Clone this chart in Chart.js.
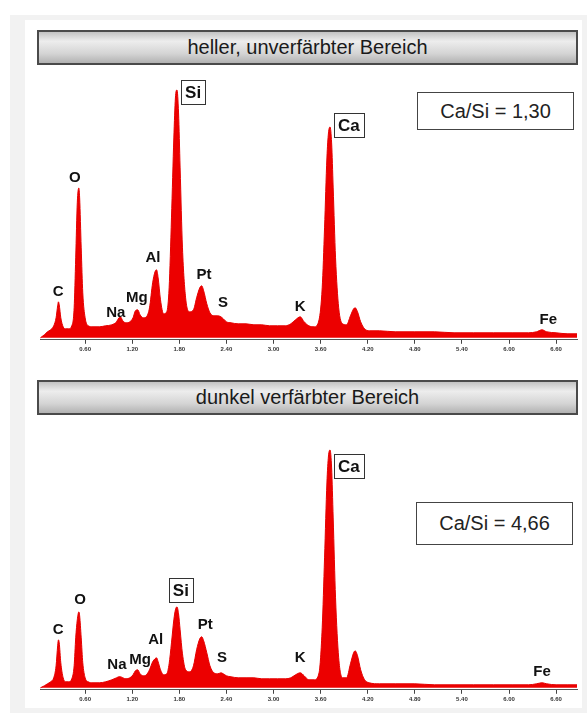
<!DOCTYPE html>
<html>
<head>
<meta charset="utf-8">
<script src="https://cdn.jsdelivr.net/npm/chart.js@4/dist/chart.umd.min.js"></script>
<style>
  body { margin: 0; background: #fff; width: 587px; height: 713px; position: relative; overflow: hidden; font-family: Arial, "Liberation Sans", sans-serif; }
  #frame { position: absolute; left: 10px; top: 15px; width: 577px; height: 698px; background: #f2f2f2; }
  #panel { position: absolute; left: 25px; top: 20px; width: 557px; height: 688px; background: #fff; }
  .head { position: absolute; left: 37px; width: 537px; height: 31px; border: 2px solid #4a4a4a;
          background: linear-gradient(to bottom, #c2c2c2 0%, #ededed 30%, #d4d4d4 70%, #b2b2b2 100%);
          text-align: center; font-size: 20px; line-height: 31px; color: #1a1a1a; }
  .ratio { position: absolute; width: 155px; border: 1px solid #444; background: #fff;
           text-align: center; font-size: 20px; color: #222; }
  .wrap { position: absolute; left: 0; width: 587px; }
</style>
</head>
<body>
<div id="frame"></div>
<div id="panel"></div>
<div class="head" style="top:30px">heller, unverfärbter Bereich</div>
<div class="head" style="top:380px">dunkel verfärbter Bereich</div>
<div class="wrap" style="top:70px;height:287px"><canvas id="chart1"></canvas></div>
<div class="wrap" style="top:425px;height:287px"><canvas id="chart2"></canvas></div>
<div class="ratio" style="left:417px;top:92px;height:36px;line-height:36px">Ca/Si = 1,30</div>
<div class="ratio" style="left:416px;top:502px;height:41px;line-height:41px">Ca/Si = 4,66</div>
<script>
// energy grid in keV
var energy = [
  0.03, 0.08, 0.12, 0.16, 0.20, 0.23, 0.25, 0.26, 0.27, 0.29,
  0.32, 0.35, 0.39, 0.43, 0.46, 0.48, 0.50, 0.52, 0.53, 0.55,
  0.57, 0.60, 0.64, 0.70, 0.78, 0.86, 0.94, 1.00, 1.03, 1.05,
  1.08, 1.12, 1.17, 1.21, 1.24, 1.27, 1.30, 1.34, 1.38, 1.42,
  1.46, 1.49, 1.51, 1.53, 1.56, 1.60, 1.64, 1.67, 1.70, 1.73,
  1.75, 1.77, 1.79, 1.81, 1.84, 1.88, 1.93, 1.98, 2.02, 2.06,
  2.085, 2.11, 2.15, 2.19, 2.24, 2.29, 2.33, 2.36, 2.40, 2.46,
  2.55, 2.65, 2.75, 2.85, 2.95, 3.05, 3.15, 3.22, 3.28, 3.34,
  3.39, 3.45, 3.52, 3.58, 3.62, 3.65, 3.68, 3.70, 3.72, 3.74,
  3.76, 3.79, 3.83, 3.88, 3.93, 3.98, 4.02, 4.04, 4.07, 4.11,
  4.16, 4.22, 4.35, 4.55, 4.80, 5.05, 5.30, 5.55, 5.80, 6.05,
  6.25, 6.35, 6.42, 6.48, 6.60, 6.75, 6.87
];

// counts, light area (arbitrary units)
var countsLight = [
  0, 3, 6, 8, 12, 20, 32, 36, 33, 20,
  11, 9, 9, 12, 30, 80, 135, 150, 140, 90,
  45, 20, 12, 11, 11, 12, 13, 16, 20, 21,
  17, 15, 16, 20, 27, 28, 23, 20, 21, 30,
  55, 66, 68, 60, 38, 24, 26, 50, 120, 200,
  240, 248, 225, 170, 90, 40, 26, 28, 40, 50,
  52, 47, 34, 25, 22, 22, 21, 19, 16, 15,
  14, 14, 13, 13, 12, 12, 12, 14, 18, 21,
  16, 12, 11, 18, 50, 110, 180, 205, 211, 195,
  150, 80, 30, 14, 13, 22, 29, 30, 26, 16,
  9, 7, 7, 6, 6, 6, 5, 5, 5, 5,
  5, 6, 8, 6, 5, 4, 4
];

// counts, dark area
var countsDark = [
  0, 2, 4, 6, 10, 22, 42, 48, 45, 25,
  10, 6, 6, 9, 22, 50, 68, 76, 72, 50,
  25, 10, 6, 5, 5, 6, 8, 10, 11, 11,
  10, 9, 10, 13, 17, 18, 14, 12, 13, 18,
  26, 29, 30, 26, 18, 13, 14, 24, 45, 68,
  78, 81, 74, 58, 34, 18, 16, 22, 38, 49,
  51, 47, 35, 22, 15, 14, 15, 14, 12, 11,
  10, 10, 10, 9, 9, 9, 9, 10, 13, 15,
  12, 8, 8, 15, 60, 130, 205, 232, 238, 220,
  170, 90, 30, 10, 10, 24, 35, 37, 32, 18,
  8, 5, 4, 4, 4, 3, 3, 3, 3, 3,
  3, 4, 5, 4, 3, 3, 3
];

var tickValues = [0.6, 1.2, 1.8, 2.4, 3.0, 3.6, 4.2, 4.8, 5.4, 6.0, 6.6];

// element labels: name, label anchor (keV, counts), boxed or not
var elements = ["C", "O", "Na", "Mg", "Al", "Si", "Pt", "S", "K", "Ca", "Fe"];
var boxedNames = ["Si", "Ca"];
var labelELight = [0.255, 0.47, 0.99, 1.26, 1.465, 1.975, 2.115, 2.355, 3.34, 3.96, 6.50];
var labelHLight = [46, 160, 25, 40, 80, 246, 63, 35, 31, 213, 18];
var labelEDark = [0.255, 0.535, 1.005, 1.30, 1.50, 1.82, 2.13, 2.345, 3.34, 3.96, 6.42];
var labelHDark = [58, 88, 23, 28, 48, 98, 63, 30, 30, 222, 16];

function labelPlugin(xs, hs) {
  return {
    id: "peakLabels",
    afterDraw: function(chart) {
      var c = chart.ctx, sx = chart.scales.x, sy = chart.scales.y;
      c.save();
      c.textAlign = "center";
      c.textBaseline = "middle";
      c.fillStyle = "#111";
      for (var i = 0; i < elements.length; i++) {
        var px = sx.getPixelForValue(xs[i]);
        var py = sy.getPixelForValue(hs[i]);
        if (boxedNames.indexOf(elements[i]) >= 0) {
          c.font = "bold 17px Arial, 'Liberation Sans'";
          var w = c.measureText(elements[i]).width + 8;
          c.fillStyle = "#fff";
          c.fillRect(px - w / 2, py - 12, w, 24);
          c.strokeStyle = "#333";
          c.lineWidth = 1;
          c.strokeRect(Math.round(px - w / 2) + 0.5, Math.round(py - 12) + 0.5, Math.round(w), 24);
          c.fillStyle = "#111";
          c.fillText(elements[i], px, py + 1);
        } else {
          c.font = "bold 15px Arial, 'Liberation Sans'";
          c.fillText(elements[i], px, py);
        }
      }
      c.restore();
    }
  };
}

function makeChart(id, counts, ymax, xs, hs, padBottom) {
  var pts = [];
  for (var i = 0; i < energy.length; i++) pts.push({ x: energy[i], y: counts[i] });
  return new Chart(document.getElementById(id), {
    type: "line",
    data: {
      datasets: [{
        data: pts,
        borderColor: "rgb(230,0,0)",
        backgroundColor: "rgb(236,0,0)",
        borderWidth: 1,
        fill: "origin",
        pointRadius: 0,
        cubicInterpolationMode: "monotone"
      }]
    },
    options: {
      responsive: true,
      maintainAspectRatio: false,
      animation: false,
      layout: { padding: { left: 40, right: 10, top: 15, bottom: padBottom } },
      plugins: { legend: { display: false }, tooltip: { enabled: false } },
      scales: {
        x: {
          type: "linear",
          min: 0.025,
          max: 6.866,
          afterBuildTicks: function(axis) {
            axis.ticks = tickValues.map(function(v) { return { value: v }; });
          },
          grid: { drawOnChartArea: false, color: "#444", tickLength: 4 },
          border: { color: "#555", width: 1 },
          ticks: {
            autoSkip: false,
            maxRotation: 0,
            padding: 2,
            color: "#333",
            font: { size: 6, weight: "bold", family: "Arial" },
            callback: function(v) { return v.toFixed(2); }
          }
        },
        y: { display: false, min: -2, max: ymax }
      }
    },
    plugins: [labelPlugin(xs, hs)]
  });
}

makeChart("chart1", countsLight, 253, labelELight, labelHLight, 2);
makeChart("chart2", countsDark, 248, labelEDark, labelHDark, 7);
</script>
</body>
</html>
